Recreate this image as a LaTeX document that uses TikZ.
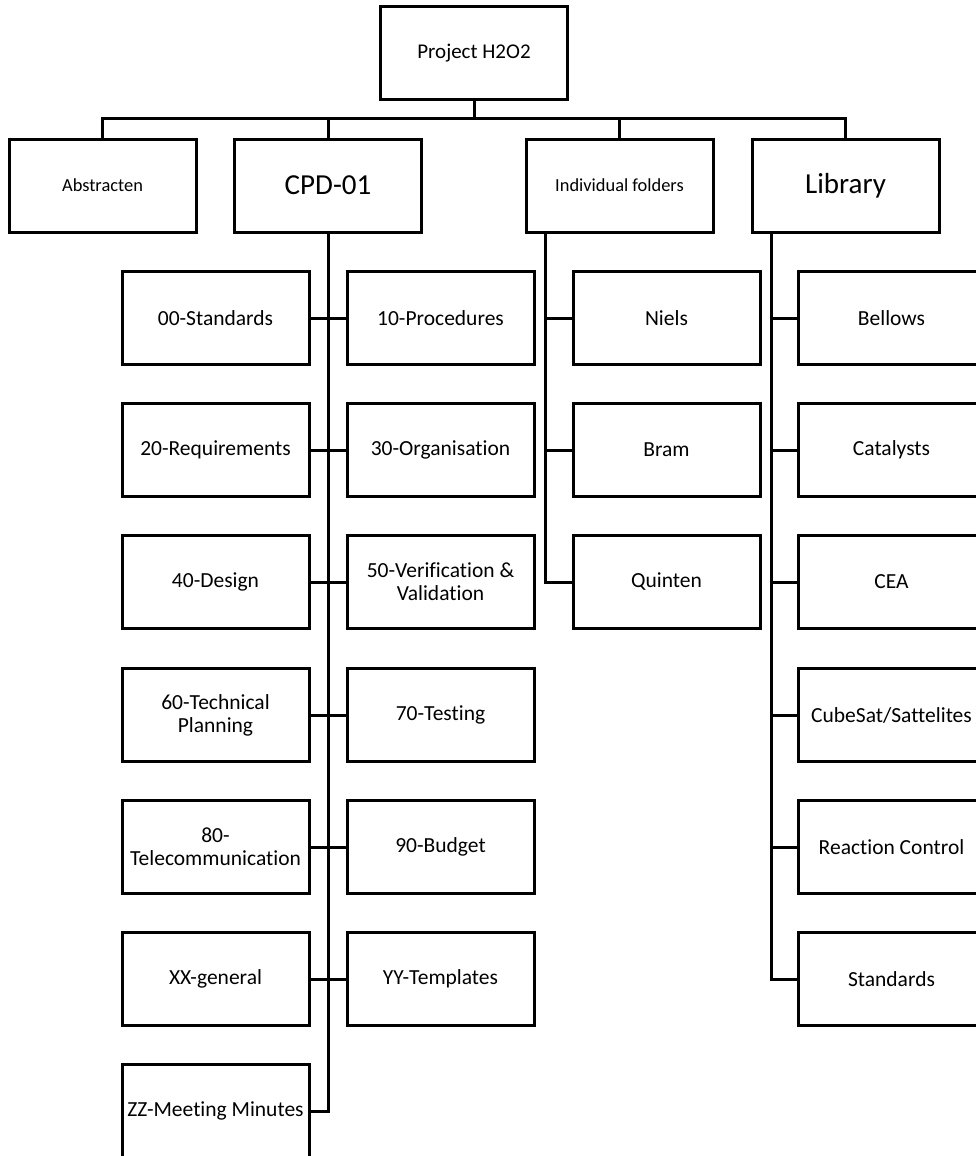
\documentclass[tikz,border=0pt]{standalone}
\usepackage{fontspec}
\setmainfont{Carlito}[Ligatures=NoCommon]
\begin{document}
\begin{tikzpicture}[x=1pt,y=-1pt]
\tikzstyle{every node}+=[inner sep=0pt]
\tikzstyle{folder}=[draw, line width=3pt, fill=white, minimum width=187pt, minimum height=93pt, align=center, font=\fontsize{21.5}{23}\selectfont]
\tikzstyle{small}=[font=\fontsize{18.4}{22}\selectfont]
\tikzstyle{big}=[font=\fontsize{29}{34}\selectfont]
\tikzstyle{link}=[line width=3pt]
\useasboundingbox [fill=white] (0,0) rectangle (976,1156);
\clip (0,0) rectangle (976,1156);
\node [folder, minimum height=92pt, font=\fontsize{21}{24}\selectfont] (root) at (474,53) {Project H2O2};
\node [folder, small] (abs) at (102.5,185.5) {Abstracten};
\node [folder, big] (cpd) at (328,185.5) {CPD-01};
\node [folder, small] (indiv) at (619.5,185.5) {Individual folders};
\node [folder, big] (lib) at (845.5,185.5) {Library};
\coordinate (bus) at (474,118);
\draw [link] (root) -- (bus);
\draw [link] (bus) -| (abs);
\draw [link] (bus) -| (cpd);
\draw [link] (bus) -| (indiv);
\draw [link] (bus) -| (lib);
\node [folder] (s00) at (215.5,318) {00-Standards};
\node [folder] (s10) at (440.5,318) {10-Procedures};
\node [folder] (s20) at (215.5,450) {20-Requirements};
\node [folder] (s30) at (440.5,450) {30-Organisation};
\node [folder] (s40) at (215.5,582) {40-Design};
\node [folder] (s50) at (440.5,582) {50-Verification \&\\Validation};
\node [folder] (s60) at (215.5,715) {60-Technical\\Planning};
\node [folder] (s70) at (440.5,715) {70-Testing};
\node [folder] (s80) at (215.5,847) {80-\\Telecommunication};
\node [folder] (s90) at (440.5,847) {90-Budget};
\node [folder] (sxx) at (215.5,979) {XX-general};
\node [folder] (syy) at (440.5,979) {YY-Templates};
\node [folder] (szz) at (215.5,1111) {ZZ-Meeting Minutes};
\draw [link] (cpd) |- (szz);
\draw [link] (s00) -- (s10);
\draw [link] (s20) -- (s30);
\draw [link] (s40) -- (s50);
\draw [link] (s60) -- (s70);
\draw [link] (s80) -- (s90);
\draw [link] (sxx) -- (syy);
\node [folder] (niels) at (666.5,318) {Niels};
\node [folder] (bram) at (666.5,450) {Bram};
\node [folder] (quinten) at (666.5,582) {Quinten};
\coordinate (itrunk) at ([xshift=-74.5pt]indiv.south);
\draw [link] (itrunk) |- (quinten);
\draw [link] (niels) -- (niels -| itrunk);
\draw [link] (bram) -- (bram -| itrunk);
\node [folder] (bellows) at (891.5,318) {Bellows};
\node [folder] (catalysts) at (891.5,450) {Catalysts};
\node [folder] (cea) at (891.5,582) {CEA};
\node [folder] (cubesat) at (891.5,715) {CubeSat/Sattelites};
\node [folder] (reaction) at (891.5,847) {Reaction Control};
\node [folder] (lstd) at (891.5,979) {Standards};
\coordinate (ltrunk) at ([xshift=-74.5pt]lib.south);
\draw [link] (ltrunk) |- (lstd);
\draw [link] (bellows) -- (bellows -| ltrunk);
\draw [link] (catalysts) -- (catalysts -| ltrunk);
\draw [link] (cea) -- (cea -| ltrunk);
\draw [link] (cubesat) -- (cubesat -| ltrunk);
\draw [link] (reaction) -- (reaction -| ltrunk);
\end{tikzpicture}
\end{document}
